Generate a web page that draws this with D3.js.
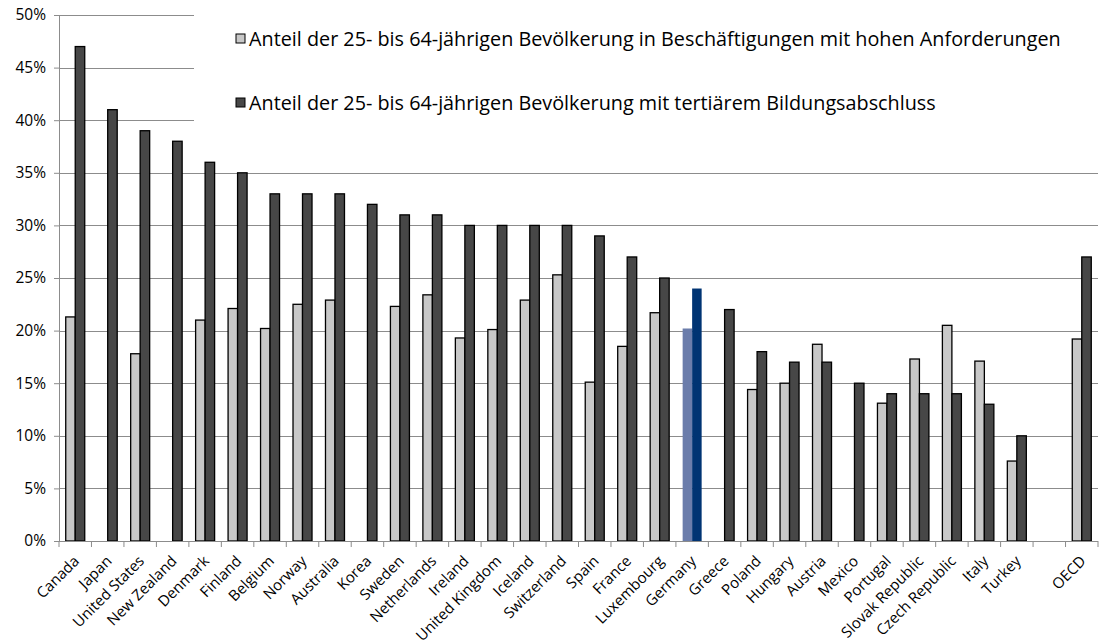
<!DOCTYPE html>
<html>
<head>
<meta charset="utf-8">
<script src="https://cdn.jsdelivr.net/npm/d3@7"></script>
<style>
  body { margin: 0; background: #fff; }
  text { font-family: "Open Sans", "DejaVu Sans", sans-serif; fill: #000; }
</style>
</head>
<body>
<div class="visholder"></div>
<script>
let width = 1105,
    height = 644;

const countries = ["Canada", "Japan", "United States", "New Zealand", "Denmark", "Finland", "Belgium",
    "Norway", "Australia", "Korea", "Sweden", "Netherlands", "Ireland", "United Kingdom", "Iceland",
    "Switzerland", "Spain", "France", "Luxembourg", "Germany", "Greece", "Poland", "Hungary", "Austria",
    "Mexico", "Portugal", "Slovak Republic", "Czech Republic", "Italy", "Turkey", "", "OECD"];

// share in high-skill jobs (null = no value)
const jobs = [21.3, null, 17.8, null, 21.0, 22.1, 20.2, 22.5, 22.9, null, 22.3, 23.4, 19.3, 20.1, 22.9,
    25.3, 15.1, 18.5, 21.7, 20.2, null, 14.4, 15.0, 18.7, null, 13.1, 17.3, 20.5, 17.1, 7.6, null, 19.2];

// share with tertiary education
const tertiary = [47, 41, 39, 38, 36, 35, 33, 33, 33, 32, 31, 31, 30, 30, 30,
    30, 29, 27, 25, 24, 22, 18, 17, 17, 15, 14, 14, 14, 13, 10, null, 27];

const yTicks = [0, 5, 10, 15, 20, 25, 30, 35, 40, 45, 50];

const legendLabels = [
    "Anteil der 25- bis 64-jährigen Bevölkerung in Beschäftigungen mit hohen Anforderungen",
    "Anteil der 25- bis 64-jährigen Bevölkerung mit tertiärem Bildungsabschluss"
];

const colors = ["#c8c8c8", "#474747"];
const highlight = { Germany: ["#6b7dab", "#003473"] };

let plotLeft = 59, plotRight = 1098, plotTop = 15, plotBottom = 541;

var svg = d3.select(".visholder")
    .append("svg")
    .attr("width", width)
    .attr("height", height);

var x = d3.scaleBand().domain(d3.range(countries.length)).range([plotLeft, plotRight]);
var y = d3.scaleLinear().domain([0, 50]).range([plotBottom, plotTop]);
var barW = 9.5;

// gridlines
svg.append("g")
    .selectAll("line")
    .data(yTicks.filter(d => d > 0))
    .enter()
    .append("line")
    .attr("x1", plotLeft)
    .attr("x2", plotRight)
    .attr("y1", d => Math.round(y(d)) + 0.5)
    .attr("y2", d => Math.round(y(d)) + 0.5)
    .attr("stroke", "#8c8c8c")
    .attr("stroke-width", 1);

// legend background hides gridlines behind it
svg.append("rect")
    .attr("x", 194)
    .attr("y", 0)
    .attr("width", plotRight - 194 + 2)
    .attr("height", 150)
    .attr("fill", "#fff");

// bars: one entry per (country, series) with a value
var bars = [];
countries.forEach(function (c, i) {
    [jobs, tertiary].forEach(function (series, s) {
        if (series[i] != null) bars.push({ name: c, i: i, s: s, v: series[i] });
    });
});

svg.append("g")
    .selectAll("rect")
    .data(bars)
    .enter()
    .append("rect")
    .attr("x", d => x(d.i) + x.bandwidth() / 2 - barW + d.s * barW)
    .attr("y", d => y(d.v))
    .attr("width", barW)
    .attr("height", d => y(0) - y(d.v))
    .attr("fill", d => highlight[d.name] ? highlight[d.name][d.s] : colors[d.s])
    .attr("stroke", d => highlight[d.name] ? "none" : "#000")
    .attr("stroke-width", 1.3);

// y axis
var yAxis = d3.axisLeft(y).tickValues(yTicks).tickSize(5).tickPadding(8)
    .tickFormat(d => d + "%");
var yg = svg.append("g")
    .attr("transform", `translate(${plotLeft},0)`)
    .call(yAxis);
yg.select(".domain").attr("stroke", "#8c8c8c");
yg.selectAll(".tick line").attr("stroke", "#8c8c8c");
yg.selectAll(".tick text").style("font-size", "15.5px").attr("fill", "#000");

// x axis
var xg = svg.append("g")
    .attr("transform", `translate(0,${plotBottom})`);
xg.append("line")
    .attr("x1", plotLeft).attr("x2", plotRight)
    .attr("y1", 0.5).attr("y2", 0.5)
    .attr("stroke", "#8c8c8c");
xg.selectAll(".xtick")
    .data(d3.range(countries.length + 1))
    .enter()
    .append("line")
    .attr("x1", i => i < countries.length ? x(i) : plotRight)
    .attr("x2", i => i < countries.length ? x(i) : plotRight)
    .attr("y1", 0).attr("y2", 6)
    .attr("stroke", "#8c8c8c");
xg.selectAll(".xlabel")
    .data(countries)
    .enter()
    .append("text")
    .attr("transform", (d, i) => `translate(${x(i) + x.bandwidth() / 2 + 5},${21}) rotate(-45)`)
    .style("text-anchor", "end")
    .style("font-size", "15px")
    .text(d => d);

// legend
var legend = svg.append("g")
    .selectAll("g")
    .data(legendLabels)
    .enter()
    .append("g")
    .attr("transform", (d, i) => `translate(236, ${34 + i * 64})`);

legend.append("rect")
    .attr("width", 9)
    .attr("height", 9)
    .attr("fill", (d, i) => colors[i])
    .attr("stroke", "#000")
    .attr("stroke-width", 1);

legend.append("text")
    .attr("x", 13)
    .attr("y", 5)
    .attr("dy", ".35em")
    .style("font-size", "19.8px")
    .text(d => d);
</script>
</body>
</html>
